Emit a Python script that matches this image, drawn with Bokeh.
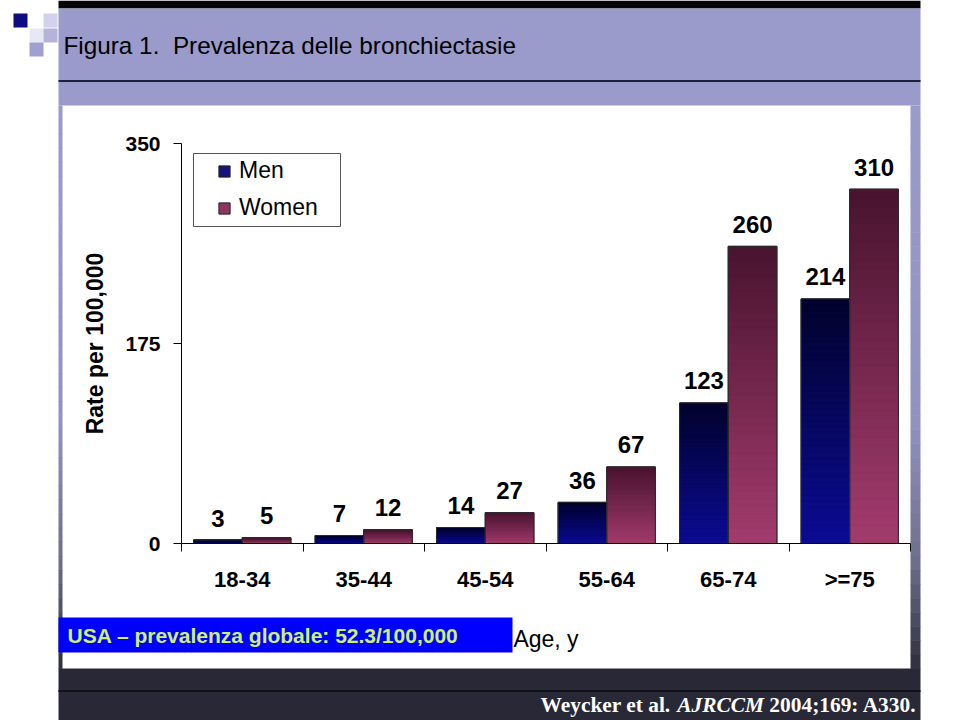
from bokeh.plotting import figure
from bokeh.models import (Range1d, FixedTicker, BoxAnnotation, Label, Legend,
                          LegendItem, ColumnDataSource, LinearAxis)
from bokeh.embed import file_html
from bokeh.resources import INLINE
from bokeh.core.properties import value

# ---------------- data ----------------
categories = ["18-34", "35-44", "45-54", "55-64", "65-74", ">=75"]
men = [3, 7, 14, 36, 123, 214]
women = [5, 12, 27, 67, 260, 310]
y_ticks = [0, 175, 350]
y_max = 350
series_names = ["Men", "Women"]

title_text = "Figura 1.\u00a0 Prevalenza delle bronchiectasie"
note_text = "USA \u2013 prevalenza globale: 52.3/100,000"
x_label = "Age, y"
y_label = "Rate per 100,000"
footer_parts = ["Weycker et al.", "AJRCCM", "2004;169: A330."]

# ---------------- layout (page px) ----------------
W, H = 960, 720
FL, FR, FT, FB = 181, 910, 143, 543   # where the chart's axes sit
ncat = len(categories)


def dx(X):
    return (X - FL) / (FR - FL) * ncat


def dy(Y):
    return (FB - Y) / (FB - FT) * y_max


p = figure(width=W, height=H, x_range=Range1d(dx(0), dx(W)), y_range=Range1d(dy(H), dy(0)),
           output_backend="svg", toolbar_location=None, min_border=0,
           x_axis_location=None, y_axis_location=None)
p.xgrid.grid_line_color = None
p.ygrid.grid_line_color = None
p.outline_line_color = None
p.background_fill_color = "white"
p.border_fill_color = "white"


def box(x0, y0, x1, y1, color, line=None):
    b = BoxAnnotation(left=dx(x0), right=dx(x1), top=dy(y0), bottom=dy(y1),
                      fill_color=color, fill_alpha=1 if color else 0,
                      line_color=line, line_alpha=1 if line else 0, level="underlay")
    p.add_layout(b)
    return b


def hex2rgb(h):
    h = h.lstrip("#")
    return [int(h[i:i + 2], 16) for i in (0, 2, 4)]


def mix(c1, c2, t):
    a, b = hex2rgb(c1), hex2rgb(c2)
    return "#%02x%02x%02x" % tuple(int(round(a[i] + (b[i] - a[i]) * t)) for i in range(3))


LAV = "#9a9acb"
DARK = "#282836"

# slide decorations
box(58, 0, 920, 8, "#050505")
box(58, 8, 920, 105, LAV)
box(58, 79.5, 920, 81.5, "#1e1e3c")
box(58, 668, 920, 720, DARK)
box(58, 689.5, 920, 691.5, "#101016")
stops = [(105, LAV), (420, "#9292c2"), (560, "#6e6e8e"), (668, "#2e2e3c")]
nsl = 40
for k in range(nsl):
    y0 = 105 + (668 - 105) * k / nsl
    y1 = 105 + (668 - 105) * (k + 1) / nsl
    ym = (y0 + y1) / 2
    for j in range(len(stops) - 1):
        if stops[j][0] <= ym <= stops[j + 1][0]:
            t = (ym - stops[j][0]) / (stops[j + 1][0] - stops[j][0])
            c = mix(stops[j][1], stops[j + 1][1], t)
    box(58, y0, 62, y1 + 0.5, c)
    box(910, y0, 920, y1 + 0.5, c)

# pixel squares (top-left logo)
box(13, 13, 27, 27, "#0d0d80")
box(43, 13, 57, 27, "#d2d2ea")
box(29, 28, 43, 42, "#e8e8f2")
box(43, 28, 57, 42, "#b4b4da")
box(29, 42, 43, 56, "#a0a0d0")

# title
p.add_layout(Label(x=dx(63), y=dy(45), text=title_text, text_baseline="middle",
                   text_align="left", text_font="Liberation Sans",
                   text_font_size="24.3px", text_color="black"))

# blue note box
box(58, 617, 512, 652, "#0000ff")
p.add_layout(Label(x=dx(67), y=dy(635), text=note_text, text_baseline="middle",
                   text_align="left", text_font="Liberation Sans",
                   text_font_style="bold", text_font_size="21px", text_color="#ccf070"))

# footer (three runs: bold, bold italic, bold)
fs = 21.4
em_w = [6.137, 4.057, 6.888]
space_em = 0.25
xs = 540
for part, em, style in zip(footer_parts, em_w, ["bold", "bold italic", "bold"]):
    p.add_layout(Label(x=dx(xs), y=dy(704), text=part, text_baseline="middle",
                       text_align="left", text_font="Liberation Serif",
                       text_font_style=style, text_font_size="%.1fpx" % fs,
                       text_color="white"))
    xs += (em + space_em) * fs

# ---------------- bars ----------------
bw = 0.4
men_x = [i + 0.3 for i in range(ncat)]
women_x = [i + 0.7 for i in range(ncat)]

r_men = p.vbar(x=men_x, width=bw, top=men, bottom=0, fill_color="#14147a",
               line_color="#222222")
r_women = p.vbar(x=women_x, width=bw, top=women, bottom=0, fill_color="#8e3462",
                 line_color="#222222")

N = 40
grad = {"x": [], "bottom": [], "top": [], "color": []}
for xs_, vals, c_bot, c_top in [(men_x, men, "#0b0b94", "#02022c"),
                                (women_x, women, "#a33b6d", "#48142f")]:
    for xv, v in zip(xs_, vals):
        for k in range(N):
            grad["x"].append(xv)
            grad["bottom"].append(v * k / N)
            grad["top"].append(v * (k + 1) / N)
            grad["color"].append(mix(c_bot, c_top, (k + 0.5) / N))
p.vbar(x="x", width=bw, top="top", bottom="bottom", fill_color="color",
       line_color="color", line_width=0.6, source=ColumnDataSource(grad))

p.vbar(x=men_x + women_x, width=bw, top=men + women, bottom=0, fill_color=None,
       line_color="#2a2a2a", line_width=1)

# value labels
lab = ColumnDataSource(dict(x=men_x + women_x, y=men + women,
                            t=[str(v) for v in men + women]))
p.text(x="x", y="y", text="t", source=lab, text_align="center",
       text_baseline="middle", y_offset=-22, text_font=value("Liberation Sans"),
       text_font_style="bold", text_font_size="24px", text_color="black")

# ---------------- axes ----------------
xa = LinearAxis(fixed_location=0, bounds=(0, ncat),
                ticker=FixedTicker(ticks=[i + 0.5 for i in range(ncat)],
                                   minor_ticks=list(range(ncat + 1))))
xa.major_label_overrides = {i + 0.5: c for i, c in enumerate(categories)}
xa.major_tick_out = 0
xa.major_tick_in = 0
xa.minor_tick_out = 8
xa.minor_tick_in = 0
xa.minor_tick_line_color = "black"
xa.axis_line_color = "black"
xa.major_label_standoff = 15
xa.major_label_text_font = "Liberation Sans"
xa.major_label_text_font_style = "bold"
xa.major_label_text_font_size = "22px"
xa.major_label_text_color = "black"
xa.axis_label = x_label
xa.axis_label_text_font = "Liberation Sans"
xa.axis_label_text_font_style = "normal"
xa.axis_label_text_font_size = "23px"
xa.axis_label_text_color = "black"
xa.axis_label_standoff = 31
p.add_layout(xa, "below")

ya = LinearAxis(fixed_location=0, bounds=(0, y_max), ticker=FixedTicker(ticks=y_ticks))
ya.major_tick_out = 8
ya.major_tick_in = 0
ya.minor_tick_line_color = None
ya.axis_line_color = "black"
ya.major_label_standoff = 13
ya.major_label_text_font = "Liberation Sans"
ya.major_label_text_font_style = "bold"
ya.major_label_text_font_size = "21px"
ya.major_label_text_color = "black"
ya.axis_label = y_label
ya.axis_label_text_font = "Liberation Sans"
ya.axis_label_text_font_style = "bold"
ya.axis_label_text_font_size = "23px"
ya.axis_label_text_color = "black"
ya.axis_label_standoff = 14
p.add_layout(ya, "left")

# ---------------- legend ----------------
box(193, 153, 340, 226, None, line="#555555")
leg = Legend(items=[LegendItem(label=series_names[0], renderers=[r_men]),
                    LegendItem(label=series_names[1], renderers=[r_women])],
             location=(217, 499), padding=0, margin=0, spacing=10,
             glyph_width=14, glyph_height=14, label_standoff=8,
             label_text_font="Liberation Sans", label_text_font_size="23px",
             label_text_color="black", label_height=20,
             border_line_color=None, background_fill_alpha=0)
p.add_layout(leg)

open("out.html", "w").write(file_html(p, INLINE))
